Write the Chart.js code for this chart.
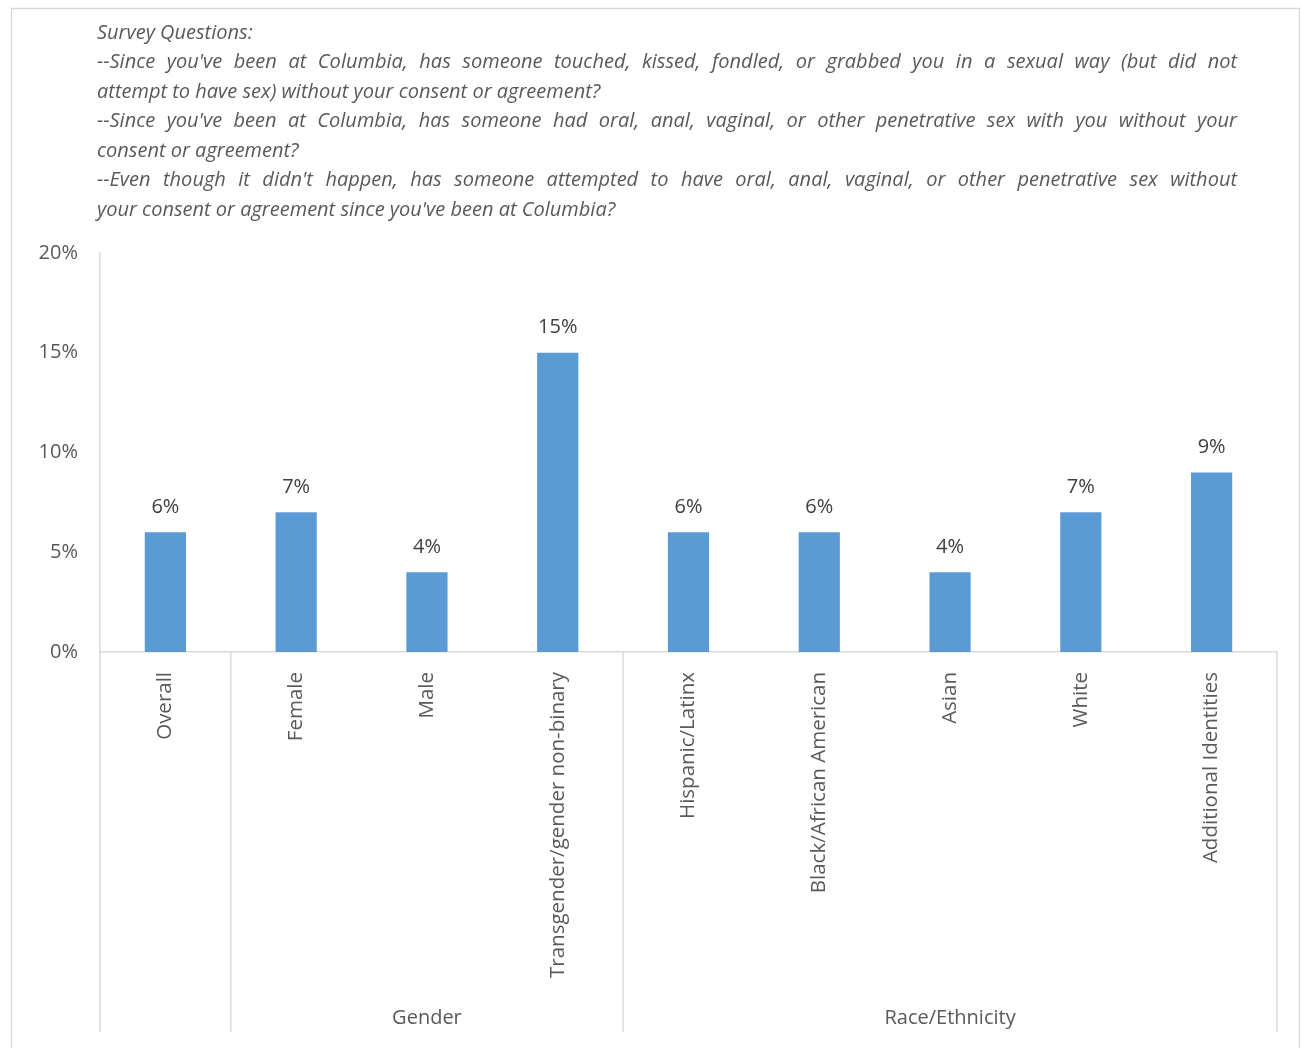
<!DOCTYPE html>
<html>
<head>
<meta charset="utf-8">
<script src="https://cdn.jsdelivr.net/npm/chart.js@4.4.1/dist/chart.umd.min.js"></script>
<style>
  html, body { margin: 0; padding: 0; background: #fff; }
  #wrap { position: relative; width: 1301px; height: 1048px; }
</style>
</head>
<body>
<div id="wrap"><canvas id="grafico"></canvas></div>
<script>
const categorias = ["Overall", "Female", "Male", "Transgender/gender non-binary", "Hispanic/Latinx", "Black/African American", "Asian", "White", "Additional Identities"];
const porcentajes = [6, 7, 4, 15, 6, 6, 4, 7, 9];
const grupos = ["", "Gender", "Race/Ethnicity"];
const grupoDesde = [0, 1, 4];
const grupoHasta = [0, 3, 8];
const ejeY = [0, 5, 10, 15, 20];
const preguntas = [
  "Survey Questions:",
  "--Since you've been at Columbia, has someone touched, kissed, fondled, or grabbed you in a sexual way (but did not",
  "attempt to have sex) without your consent or agreement?",
  "--Since you've been at Columbia, has someone had oral, anal, vaginal, or other penetrative sex with you without your",
  "consent or agreement?",
  "--Even though it didn't happen, has someone attempted to have oral, anal, vaginal, or other penetrative sex without",
  "your consent or agreement since you've been at Columbia?"
];
const justificar = [false, true, false, true, false, true, false];

const FUENTE = "'Open Sans', sans-serif";
const GRIS_LINEA = "#d9d9d9";
const GRIS_TEXTO = "#595959";

// marco exterior + bloque de preguntas (texto justificado)
const notasPlugin = {
  id: "notas",
  beforeDraw(chart) {
    const ctx = chart.ctx;
    ctx.save();
    ctx.strokeStyle = GRIS_LINEA;
    ctx.lineWidth = 1.5;
    ctx.strokeRect(11.5, 8.5, 1288, 1100);

    ctx.fillStyle = GRIS_TEXTO;
    ctx.font = "italic 20px " + FUENTE;
    ctx.textBaseline = "middle";
    const x0 = 97, ancho = 1140, y0 = 33, paso = 29.5;
    preguntas.forEach((linea, i) => {
      const y = y0 + i * paso;
      if (!justificar[i]) {
        ctx.fillText(linea, x0, y);
        return;
      }
      const palabras = linea.split(" ");
      const total = palabras.reduce((s, p) => s + ctx.measureText(p).width, 0);
      const hueco = (ancho - total) / (palabras.length - 1);
      let x = x0;
      palabras.forEach(p => {
        ctx.fillText(p, x, y);
        x += ctx.measureText(p).width + hueco;
      });
    });
    ctx.restore();
  }
};

// líneas divisorias de grupos y etiquetas de grupo bajo el eje
const gruposPlugin = {
  id: "grupos",
  afterDraw(chart) {
    const ctx = chart.ctx;
    const x = chart.scales.x;
    const area = chart.chartArea;
    const paso = (x.right - x.left) / categorias.length;
    const fondo = 1032;
    ctx.save();
    ctx.strokeStyle = GRIS_LINEA;
    ctx.lineWidth = 1.5;
    const bordes = [x.left];
    grupoHasta.forEach(h => bordes.push(x.getPixelForValue(h) + paso / 2));
    bordes.forEach(bx => {
      ctx.beginPath();
      ctx.moveTo(bx, area.bottom);
      ctx.lineTo(bx, fondo);
      ctx.stroke();
    });
    ctx.fillStyle = GRIS_TEXTO;
    ctx.font = "20px " + FUENTE;
    ctx.textAlign = "center";
    ctx.textBaseline = "middle";
    grupos.forEach((g, i) => {
      if (!g) return;
      const cx = (x.getPixelForValue(grupoDesde[i]) + x.getPixelForValue(grupoHasta[i])) / 2;
      ctx.fillText(g, cx, 1018);
    });
    ctx.restore();
  }
};

// valor encima de cada barra
const etiquetasPlugin = {
  id: "etiquetas",
  afterDatasetsDraw(chart) {
    const ctx = chart.ctx;
    const meta = chart.getDatasetMeta(0);
    ctx.save();
    ctx.fillStyle = "#404040";
    ctx.font = "20px " + FUENTE;
    ctx.textAlign = "center";
    ctx.textBaseline = "middle";
    meta.data.forEach((bar, i) => {
      ctx.fillText(porcentajes[i] + "%", bar.x, bar.y - 25);
    });
    ctx.restore();
  }
};

new Chart(document.getElementById("grafico"), {
  type: "bar",
  data: {
    labels: categorias,
    datasets: [{
      data: porcentajes,
      backgroundColor: "#5b9bd5",
      barPercentage: 0.315,
      categoryPercentage: 1
    }]
  },
  options: {
    responsive: true,
    maintainAspectRatio: false,
    animation: false,
    layout: { padding: { top: 253, right: 24, left: 0, bottom: 0 } },
    plugins: {
      legend: { display: false },
      tooltip: { enabled: false }
    },
    scales: {
      x: {
        grid: { display: false },
        border: { color: GRIS_LINEA, width: 1.5 },
        ticks: {
          color: GRIS_TEXTO,
          font: { family: FUENTE, size: 20.5 },
          minRotation: 90,
          maxRotation: 90,
          autoSkip: false,
          padding: 12
        },
        afterFit(scale) { scale.height = 396; }
      },
      y: {
        min: 0,
        max: 20,
        grid: { display: false, drawTicks: false },
        border: { color: GRIS_LINEA, width: 1.5 },
        afterBuildTicks(scale) { scale.ticks = ejeY.map(v => ({ value: v })); },
        ticks: {
          color: GRIS_TEXTO,
          font: { family: FUENTE, size: 20 },
          padding: 22,
          callback: v => v + "%"
        },
        afterFit(scale) { scale.width = 100; }
      }
    }
  },
  plugins: [notasPlugin, gruposPlugin, etiquetasPlugin]
});
</script>
</body>
</html>
